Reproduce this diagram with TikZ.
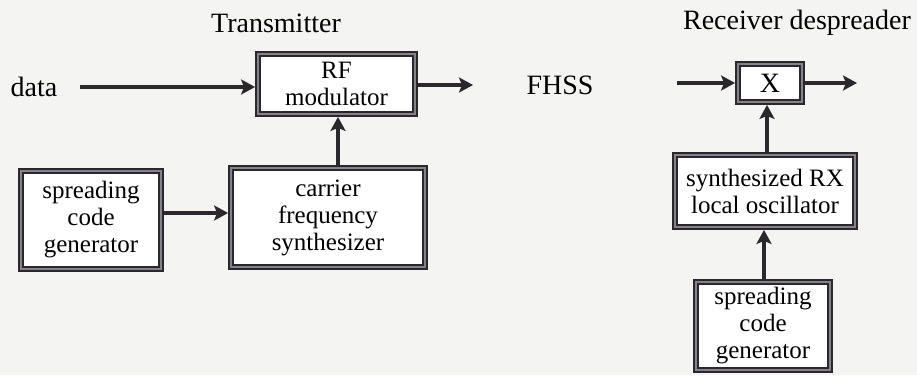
\documentclass[tikz,border=0pt]{standalone}
\usepackage{fontspec}
\setmainfont{Liberation Serif}
\usetikzlibrary{arrows.meta}
\definecolor{bg}{HTML}{F4F4F3}
\definecolor{ink}{HTML}{2A282C}
\definecolor{mid}{HTML}{85838A}
\tikzset{
  blk/.style={draw=ink, line width=2pt, double=mid, double distance=1.8pt,
    fill=white, inner sep=0pt, outer sep=2.9pt, align=center,
    font=\fontsize{25}{27}\selectfont, text=black},
  lbl/.style={font=\fontsize{28}{30}\selectfont, text=black, inner sep=0pt},
  arr/.style={draw=ink, line width=4pt,
    -{Stealth[length=14pt,width=15pt,inset=3pt]}}
}
\begin{document}
\begin{tikzpicture}[x=1pt,y=-1pt]
\fill[bg] (0,0) rectangle (917,375);
\useasboundingbox (0,0) rectangle (917,375);

% Transmitter
\node[lbl] (ttitle) at (276,23) {Transmitter};
\node[lbl] (data) at (34,87) {data};
\node[blk, minimum width=157pt, minimum height=60pt] (rf) at (336.5,84) {RF\\modulator};
\node[blk, minimum width=194pt, minimum height=99pt] (carrier) at (328,217.5) {carrier\\frequency\\synthesizer};
\node[blk, minimum width=140pt, minimum height=98pt] (spread1) at (91,220) {spreading\\code\\generator};
\node[lbl] (fhss) at (560,85) {FHSS};

\coordinate (dstart) at (80,87);
\coordinate (rfout) at (473,85);
\coordinate (cx) at (338,0);
\draw[arr] (dstart) -- (dstart -| rf.west);
\draw[arr] (rf.east |- rfout) -- (rfout);
\draw[arr] (cx |- carrier.north) -- (cx |- rf.south);
\draw[arr] (spread1.east |- 0,213) -- (carrier.west |- 0,213);

% Receiver
\node[lbl] (rtitle) at (797,23) {Receiver despreader};
\node[blk, minimum width=64pt, minimum height=38pt, font=\fontsize{28}{30}\selectfont] (x) at (770,83) {X};
\node[blk, minimum width=180pt, minimum height=72pt] (synth) at (765,191) {synthesized RX\\local oscillator};
\node[blk, minimum width=134pt, minimum height=88pt] (spread2) at (763,326) {spreading\\code\\generator};

\coordinate (xin) at (677,83);
\coordinate (xout) at (857,83);
\coordinate (sx) at (767,0);
\coordinate (gx) at (764,0);
\draw[arr] (xin) -- (x.west);
\draw[arr] (x.east) -- (xout);
\draw[arr] (sx |- synth.north) -- (sx |- x.south);
\draw[arr] (gx |- spread2.north) -- (gx |- synth.south);
\end{tikzpicture}
\end{document}
